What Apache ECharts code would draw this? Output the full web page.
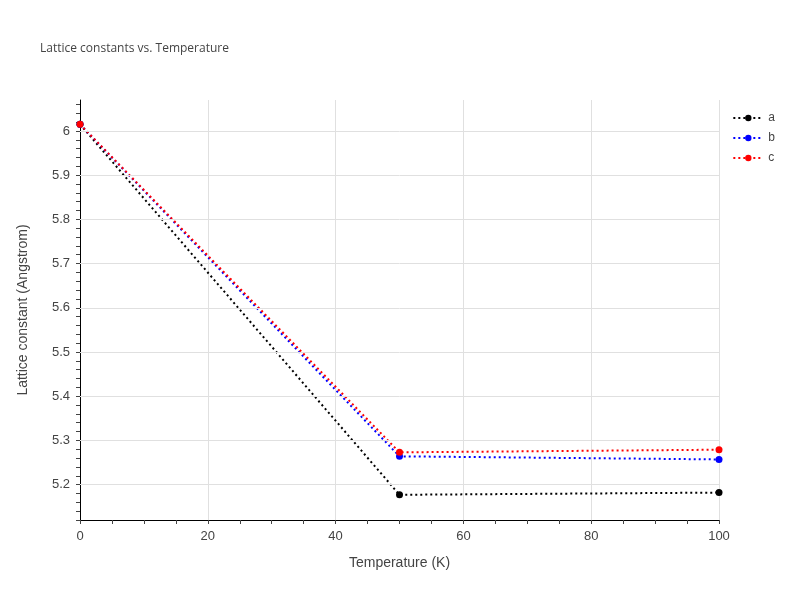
<!DOCTYPE html>
<html><head><meta charset="utf-8">
<script src="https://cdn.jsdelivr.net/npm/echarts@6/dist/echarts.min.js"></script>
<style>body{margin:0}#c{width:800px;height:600px}</style></head>
<body><div id="c"></div>
<script>
var temps = [0, 50, 100];
var aVals = [6.015, 5.177, 5.182];
var bVals = [6.015, 5.264, 5.257];
var cVals = [6.015, 5.273, 5.279];
var yGrid = [5.2, 5.3, 5.4, 5.5, 5.6, 5.7, 5.8, 5.9, 6.0];

function pts(v) { return temps.map(function (t, i) { return [t, v[i]]; }); }
function mk(name, color, v, grid) {
  var s = {
    name: name, type: 'line', data: pts(v), symbol: 'circle', symbolSize: 7,
    itemStyle: { color: color }, lineStyle: { color: color, type: [2, 3], width: 2 }
  };
  if (grid) {
    s.markLine = {
      silent: true, symbol: 'none', label: { show: false }, animation: false,
      lineStyle: { color: '#e0e0e0', type: 'solid', width: 1 },
      data: yGrid.map(function (g) { return { yAxis: g }; })
    };
  }
  return s;
}
var chart = echarts.init(document.getElementById('c'));
chart.setOption({
  animation: false,
  title: { text: 'Lattice constants vs. Temperature', left: 35, top: 38,
    textStyle: { fontSize: 12, fontWeight: 'normal', color: '#444', fontFamily: 'Open Sans' } },
  legend: { orient: 'vertical', right: 20, top: 107, itemGap: 8, itemWidth: 30, itemHeight: 8,
    textStyle: { color: '#444', fontSize: 12 }, data: ['a', 'b', 'c'] },
  grid: { left: 80, right: 81, top: 100, bottom: 80 },
  xAxis: {
    type: 'value', min: 0, max: 100, interval: 20,
    name: 'Temperature (K)', nameLocation: 'middle', nameGap: 36,
    nameTextStyle: { fontSize: 14, color: '#444' },
    axisLine: { show: true, lineStyle: { color: '#000' } },
    axisTick: { show: true, length: 4, lineStyle: { color: '#444' } },
    minorTick: { show: true, splitNumber: 4, length: 4, lineStyle: { color: '#444' } },
    axisLabel: { color: '#444', fontSize: 13, margin: 10 },
    splitLine: { show: true, lineStyle: { color: '#e0e0e0' } }
  },
  yAxis: {
    type: 'value', min: 5.12, max: 6.07, interval: 0.02,
    name: 'Lattice constant (Angstrom)', nameLocation: 'middle', nameGap: 50,
    nameTextStyle: { fontSize: 14, color: '#444' },
    axisLine: { show: true, lineStyle: { color: '#000' } },
    axisTick: { show: true, length: 4, lineStyle: { color: '#444' } },
    axisLabel: { color: '#444', fontSize: 13, margin: 10, showMaxLabel: false,
      formatter: function (v) {
        var r = Math.round(v * 10) / 10;
        return Math.abs(v - r) < 1e-6 ? String(r) : '';
      } },
    splitLine: { show: false }
  },
  series: [mk('a', '#000000', aVals, true), mk('b', '#0000ff', bVals), mk('c', '#ff0000', cVals)]
});
</script></body></html>
